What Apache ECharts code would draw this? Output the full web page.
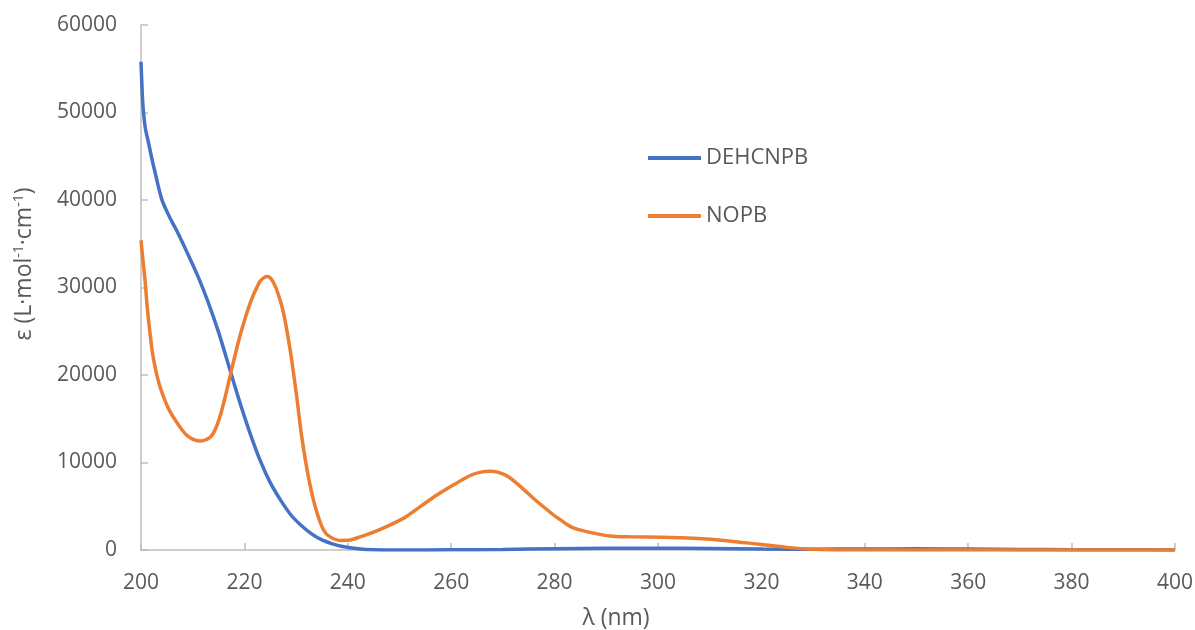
<!DOCTYPE html>
<html>
<head>
<meta charset="utf-8">
<script src="https://cdn.jsdelivr.net/npm/echarts@6/dist/echarts.min.js"></script>
<style>html,body{margin:0;padding:0;background:#fff}#c{width:1195px;height:630px}</style>
</head>
<body>
<div id="c"></div>
<script>
// DEHCNPB
const dehcnpbX = [200,200.15,200.35,200.6,200.9,201.4,202,202.7,204,205,206,207,209,211,213,215,217,219,221,223,225,227,229,231,233,235,237,239,242,245,250,260,270,280,290,300,310,320,330,340,350,360,370,380,390,400];
const dehcnpbY = [55800,53500,51000,49300,48000,46700,45000,43200,40100,38700,37500,36400,33900,31300,28300,24900,21000,17100,13500,10300,7700,5700,4000,2800,1850,1150,700,400,150,30,0,30,60,150,200,210,170,110,90,120,130,110,70,40,20,10];
// NOPB
const nopbX = [200,200.4,200.8,201.2,201.7,202.2,202.8,203.5,204.3,205.2,206.2,208.8,211.3,213.3,214.3,215.3,216.2,217.2,219.1,221.1,222.8,223.5,224.3,225.1,226,226.9,227.6,228.3,229.1,230.1,231.1,232.4,233.7,235.3,236.6,238.5,240.4,242.4,245,247.5,251,254,257,260.4,264,266,267.5,269,271,273.3,276.5,279.8,281,283,284.5,286.2,290.7,295,300.4,306.8,313.3,319.7,325,330,335,340,350,360,370,380,390,400];
const nopbY = [35400,33000,30700,27800,25000,22600,20700,19000,17600,16300,15240,13140,12450,12850,13700,15300,17300,19800,24380,28190,30500,31000,31250,31050,30100,28570,27000,24800,21900,17600,12900,8300,4950,2290,1500,1100,1140,1500,2050,2670,3700,4950,6200,7430,8600,8930,9000,8900,8400,7300,5600,4000,3500,2700,2350,2100,1600,1500,1450,1330,1070,650,300,80,0,0,0,0,0,0,0,0];
const seriesNames = ['DEHCNPB','NOPB'];
const xTitle = 'λ (nm)';
const yTitleParts = ['ε (L·mol', '-1', '·cm', '-1', ')'];

const pairs = (xs, ys) => xs.map((x, i) => [x, ys[i]]);
const FONT = 'Open Sans';
const TXT = '#595959';
const yTitle = '{b|' + yTitleParts[0] + '}{s|' + yTitleParts[1] + '}{b|' + yTitleParts[2] + '}{s|' + yTitleParts[3] + '}{b|' + yTitleParts[4] + '}';
const chart = echarts.init(document.getElementById('c'), null, {renderer: 'canvas'});
chart.setOption({
  animation: false,
  textStyle: {fontFamily: FONT, color: TXT},
  grid: {left: 141, right: 20, top: 25, bottom: 80, containLabel: false, outerBoundsMode: 'none'},
  legend: {
    orient: 'vertical', left: 643, top: 142,
    icon: 'rect', itemWidth: 53, itemHeight: 4, itemGap: 36,
    textStyle: {fontFamily: FONT, fontSize: 22, color: TXT},
    data: seriesNames
  },
  xAxis: {
    type: 'value', min: 200, max: 400, interval: 20,
    name: xTitle, nameLocation: 'middle', nameGap: 57,
    nameTextStyle: {fontFamily: FONT, fontSize: 23, color: TXT, padding: [0, 84, 0, 0]},
    axisLine: {show: true, lineStyle: {color: '#bfbfbf', width: 1.5}},
    axisTick: {show: true, inside: true, length: 7, lineStyle: {color: '#bfbfbf', width: 1.5}},
    axisLabel: {fontFamily: FONT, fontSize: 21, color: TXT, margin: 23},
    splitLine: {show: false}
  },
  yAxis: {
    type: 'value', min: 0, max: 60000, interval: 10000,
    name: yTitle, nameLocation: 'middle', nameGap: 101, nameRotate: 90,
    nameTextStyle: {
      fontFamily: FONT, color: TXT, padding: [0, 0, 0, 47],
      rich: {
        b: {fontFamily: FONT, fontSize: 23, color: TXT, lineHeight: 32},
        s: {fontFamily: FONT, fontSize: 14, color: TXT, lineHeight: 32, verticalAlign: 'top', padding: [4, 0, 0, 0]}
      }
    },
    axisLine: {show: true, lineStyle: {color: '#bfbfbf', width: 1.5}},
    axisTick: {show: true, inside: true, length: 7, lineStyle: {color: '#bfbfbf', width: 1.5}},
    axisLabel: {fontFamily: FONT, fontSize: 21, color: TXT, margin: 24, formatter: (v) => String(v)},
    splitLine: {show: false}
  },
  series: [
    {name: seriesNames[0], type: 'line', data: pairs(dehcnpbX, dehcnpbY), smooth: 0.3, symbol: 'none',
     lineStyle: {color: '#4472C4', width: 3.5}, itemStyle: {color: '#4472C4'}},
    {name: seriesNames[1], type: 'line', data: pairs(nopbX, nopbY), smooth: 0.3, symbol: 'none',
     lineStyle: {color: '#ED7D31', width: 3.5}, itemStyle: {color: '#ED7D31'}}
  ]
});
</script>
</body>
</html>
